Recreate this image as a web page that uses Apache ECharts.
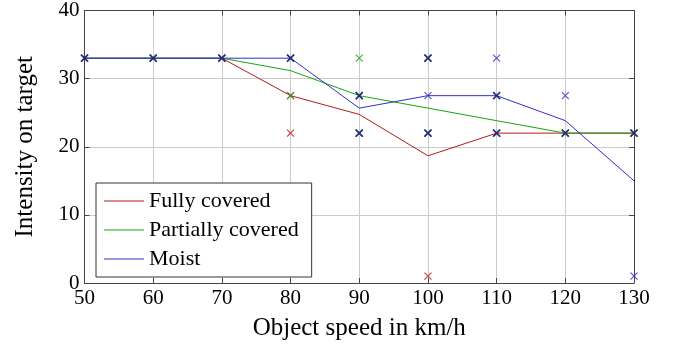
<!DOCTYPE html>
<html><head><meta charset="utf-8">
<script src="https://cdn.jsdelivr.net/npm/echarts@6/dist/echarts.min.js"></script>
<style>html,body{margin:0;padding:0;background:#fff}#c{width:677px;height:351px}</style>
</head><body><div id="c"></div>
<script>
const speeds = [50, 60, 70, 80, 90, 100, 110, 120, 130];
const seriesNames = ['Fully covered', 'Partially covered', 'Moist'];
const yTicks = [0, 10, 20, 30, 40];
// mean lines
const fullyLine = [33, 33, 33, 27.5, 24.75, 18.67, 22, 22, 22];
const partialLine = [33, 33, 33, 31.17, 27.5, 25.67, 23.83, 22, 22];
const moistLine = [33, 33, 33, 33, 25.67, 27.5, 27.5, 23.83, 15];
// individual measurements per speed
const fullyPts = [[33], [33], [33], [33, 27.5, 22], [27.5, 22], [33, 22, 1], [22], [22], [22]];
const partialPts = [[33], [33], [33], [33, 27.5], [33, 27.5, 22], [33, 22], [27.5, 22], [22], [22]];
const moistPts = [[33], [33], [33], [33], [27.5, 22], [33, 27.5, 22], [33, 27.5, 22], [27.5, 22], [22, 1]];

const colors = ['#b31b1b', '#14a514', '#3030c8'];
const navy = '#16168c';
const font = 'Liberation Serif';
const X_PATH = 'path://M0,0L10,10M10,0L0,10';

function pts(arr) {
  const out = [];
  arr.forEach((vals, i) => vals.forEach(v => out.push([speeds[i], v])));
  return out;
}
const key = p => p[0] + '_' + p[1];
const otherKeys = new Set(pts(fullyPts).concat(pts(partialPts)).map(key));

function lineSeries(name, data, color, z) {
  return {
    name, type: 'line', data: speeds.map((s, i) => [s, data[i]]),
    symbol: 'none', z,
    lineStyle: { color, width: 1 }, itemStyle: { color }
  };
}
function scatterSeries(name, data, color, z, darkOverlap) {
  return {
    name, type: 'scatter', z,
    symbol: X_PATH, symbolSize: 7, symbolKeepAspect: true,
    data: data.map(p => {
      const dark = darkOverlap && otherKeys.has(key(p));
      return {
        value: p,
        itemStyle: { borderColor: dark ? navy : color, borderWidth: dark ? 1.6 : 1.2 }
      };
    }),
    itemStyle: { color: 'transparent', borderColor: color, borderWidth: 1.2 },
    emphasis: { disabled: true }
  };
}

const chart = echarts.init(document.getElementById('c'), null, { renderer: 'canvas' });
const axisLineStyle = { color: '#444', width: 1 };
chart.setOption({
  animation: false,
  backgroundColor: '#fff',
  textStyle: { fontFamily: font },
  grid: { left: 84.5, right: 43, top: 7.5, bottom: 68, containLabel: false },
  legend: {
    data: seriesNames.map((n, i) => ({ name: n, icon: 'rect', itemStyle: { color: colors[i] } })),
    orient: 'vertical', left: 96, top: 183,
    backgroundColor: '#fff', borderColor: '#333', borderWidth: 1,
    padding: [7, 13, 7, 8], itemGap: 7, itemWidth: 40, itemHeight: 1.2,
    textStyle: { fontFamily: font, fontSize: 22, color: '#000', lineHeight: 22 },
    z: 10
  },
  xAxis: [{
    type: 'value', min: 50, max: 130, interval: 10,
    name: 'Object speed in km/h', nameLocation: 'middle', nameGap: 33,
    nameTextStyle: { fontFamily: font, fontSize: 25, color: '#000' },
    axisLine: { show: true, lineStyle: axisLineStyle },
    axisTick: { show: true, inside: true, length: 5, lineStyle: axisLineStyle },
    axisLabel: { fontFamily: font, fontSize: 21, color: '#000', margin: 5 },
    splitLine: { show: true, lineStyle: { color: '#cbcbcb', width: 1 } }
  }, {
    type: 'value', min: 50, max: 130, interval: 10, position: 'top',
    axisLine: { show: true, onZero: false, lineStyle: axisLineStyle },
    axisTick: { show: true, inside: true, length: 5, lineStyle: axisLineStyle },
    axisLabel: { show: false }, splitLine: { show: false }
  }],
  yAxis: [{
    type: 'value', min: yTicks[0], max: yTicks[yTicks.length - 1], interval: 10,
    name: 'Intensity on target', nameLocation: 'middle', nameGap: 47, nameRotate: 90,
    nameTextStyle: { fontFamily: font, fontSize: 25, color: '#000' },
    axisLine: { show: true, lineStyle: axisLineStyle },
    axisTick: { show: true, inside: true, length: 5, lineStyle: axisLineStyle },
    axisLabel: { fontFamily: font, fontSize: 21, color: '#000', margin: 5 },
    splitLine: { show: true, lineStyle: { color: '#cbcbcb', width: 1 } }
  }, {
    type: 'value', min: 0, max: 40, interval: 10, position: 'right',
    axisLine: { show: true, onZero: false, lineStyle: axisLineStyle },
    axisTick: { show: true, inside: true, length: 5, lineStyle: axisLineStyle },
    axisLabel: { show: false }, splitLine: { show: false }
  }],
  series: [
    lineSeries(seriesNames[0], fullyLine, colors[0], 2),
    lineSeries(seriesNames[1], partialLine, colors[1], 3),
    lineSeries(seriesNames[2], moistLine, colors[2], 4),
    scatterSeries('fully-pts', pts(fullyPts), colors[0], 5, false),
    scatterSeries('partial-pts', pts(partialPts), colors[1], 6, false),
    scatterSeries('moist-pts', pts(moistPts), colors[2], 7, true)
  ]
});
</script></body></html>
